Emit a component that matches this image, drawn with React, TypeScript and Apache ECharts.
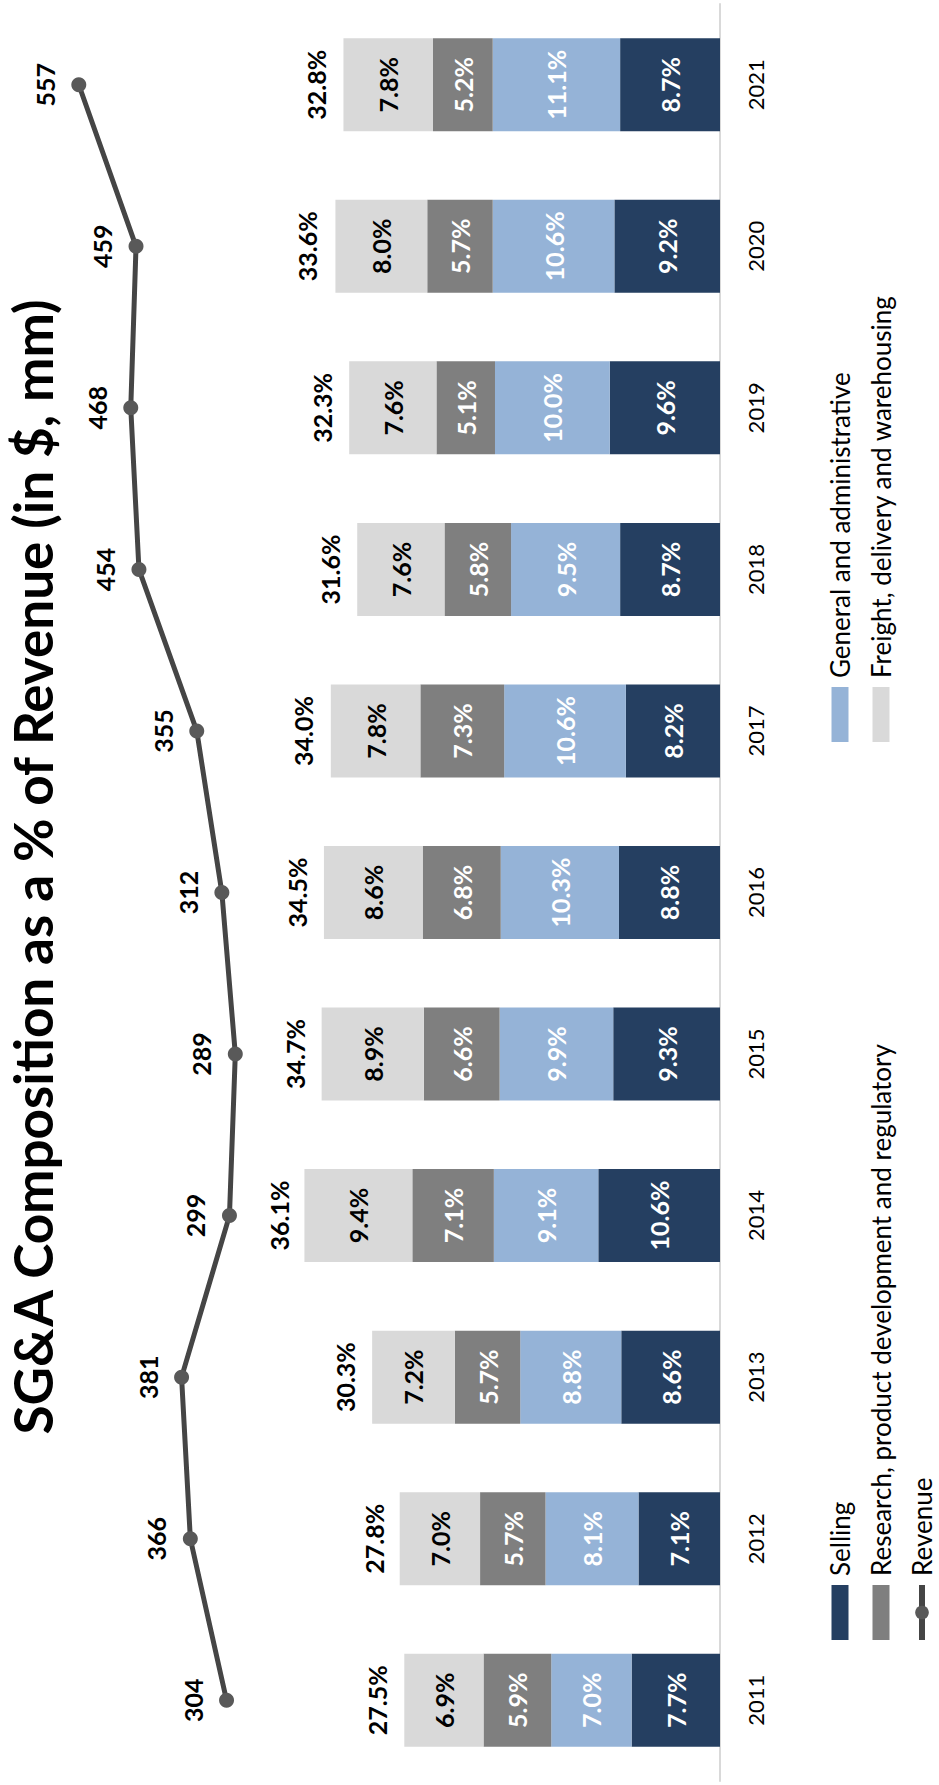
import React, { useEffect, useRef } from "react";
import * as echarts from "echarts";

// Chart is laid out landscape and turned a quarter turn counter-clockwise on the page.
const CHART_W = 1785;
const CHART_H = 939;

const YEARS = ["2011", "2012", "2013", "2014", "2015", "2016", "2017", "2018", "2019", "2020", "2021"];
const SELLING = [7.7, 7.1, 8.6, 10.6, 9.3, 8.8, 8.2, 8.7, 9.6, 9.2, 8.7];
const GENERAL_ADMIN = [7.0, 8.1, 8.8, 9.1, 9.9, 10.3, 10.6, 9.5, 10.0, 10.6, 11.1];
const RESEARCH = [5.9, 5.7, 5.7, 7.1, 6.6, 6.8, 7.3, 5.8, 5.1, 5.7, 5.2];
const FREIGHT = [6.9, 7.0, 7.2, 9.4, 8.9, 8.6, 7.8, 7.6, 7.6, 8.0, 7.8];
const TOTAL_PCT = [27.5, 27.8, 30.3, 36.1, 34.7, 34.5, 34.0, 31.6, 32.3, 33.6, 32.8];
const REVENUE = [304, 366, 381, 299, 289, 312, 355, 454, 468, 459, 557];

const FONT = 'Lato, "Open Sans", Roboto, sans-serif';
const NAVY = "#253F61";
const LIGHT_BLUE = "#95B3D7";
const DARK_GRAY = "#7F7F7F";
const LIGHT_GRAY = "#D9D9D9";
const LINE_GRAY = "#454545";

const pct = (v: number) => `${v.toFixed(1)}%`;

function segment(name: string, data: number[], color: string, textColor: string) {
  return {
    name,
    type: "bar",
    stack: "sga",
    barWidth: 93,
    data,
    itemStyle: { color },
    label: {
      show: true,
      position: "inside",
      formatter: (p: any) => pct(p.value),
      color: textColor,
      fontFamily: FONT,
      fontWeight: "bold",
      fontSize: 25,
    },
  };
}

const legendText = { fontFamily: FONT, fontSize: 26, lineHeight: 26, color: "#000", padding: [0, 0, 0, 4] };

function buildOption() {
  return {
    animation: false,
    backgroundColor: "#ffffff",
    title: {
      text: "SG&A Composition as a % of Revenue (in $, mm)",
      left: 918,
      top: 6,
      padding: 0,
      textAlign: "center",
      textStyle: { fontFamily: FONT, fontWeight: "bold", fontSize: 53, color: "#000" },
    },
    legend: [
      {
        data: [
          { name: "Selling", icon: "rect" },
          { name: "Research, product development and regulatory", icon: "rect" },
          { name: "Revenue" },
        ],
        orient: "vertical",
        left: 142,
        top: 827,
        padding: 0,
        itemWidth: 55,
        itemHeight: 17,
        itemGap: 15,
        lineStyle: { width: 6 },
        textStyle: legendText,
      },
      {
        data: [
          { name: "General and administrative", icon: "rect" },
          { name: "Freight, delivery and warehousing", icon: "rect" },
        ],
        orient: "vertical",
        left: 1043,
        top: 827,
        padding: 0,
        itemWidth: 55,
        itemHeight: 17,
        itemGap: 15,
        textStyle: legendText,
      },
    ],
    grid: { left: 4, right: 4, top: 31.2, bottom: 219 },
    xAxis: {
      type: "category",
      data: YEARS,
      axisTick: { show: false },
      axisLine: { onZero: false, lineStyle: { color: "#D9D9D9", width: 2 } },
      axisLabel: { color: "#000", fontFamily: FONT, fontSize: 22, margin: 24 },
    },
    yAxis: [
      { type: "value", min: 0, max: 60, show: false, splitLine: { show: false } },
      { type: "value", min: -541, max: 638.5, show: false, splitLine: { show: false } },
    ],
    series: [
      segment("Selling", SELLING, NAVY, "#fff"),
      segment("General and administrative", GENERAL_ADMIN, LIGHT_BLUE, "#fff"),
      segment("Research, product development and regulatory", RESEARCH, DARK_GRAY, "#fff"),
      segment("Freight, delivery and warehousing", FREIGHT, LIGHT_GRAY, "#000"),
      {
        name: "Total",
        type: "scatter",
        data: TOTAL_PCT,
        symbolSize: 1,
        itemStyle: { color: "rgba(0,0,0,0)", opacity: 1 },
        silent: true,
        label: {
          show: true,
          position: "top",
          distance: 14,
          formatter: (p: any) => pct(p.value),
          color: "#000",
          opacity: 1,
          fontFamily: FONT,
          fontWeight: "bold",
          fontSize: 25,
        },
      },
      {
        name: "Revenue",
        type: "line",
        yAxisIndex: 1,
        data: REVENUE,
        symbol: "circle",
        symbolSize: 15,
        lineStyle: { color: LINE_GRAY, width: 5 },
        itemStyle: { color: "#595959" },
        label: {
          show: true,
          position: "top",
          distance: 14,
          color: "#000",
          fontFamily: FONT,
          fontWeight: "bold",
          fontSize: 25,
        },
      },
    ],
  };
}

export default function App() {
  const ref = useRef<HTMLDivElement>(null);
  useEffect(() => {
    if (!ref.current) return;
    const chart = echarts.init(ref.current, null, { renderer: "svg", width: CHART_W, height: CHART_H });
    chart.setOption(buildOption() as any);
    return () => chart.dispose();
  }, []);
  return (
    <div
      style={{
        position: "absolute",
        left: 0,
        top: 0,
        width: CHART_H,
        height: CHART_W,
        overflow: "hidden",
        background: "#fff",
      }}
    >
      <div
        ref={ref}
        style={{
          position: "absolute",
          left: 0,
          top: 0,
          width: CHART_W,
          height: CHART_H,
          transformOrigin: "0 0",
          transform: `translateY(${CHART_W}px) rotate(-90deg)`,
        }}
      />
    </div>
  );
}
